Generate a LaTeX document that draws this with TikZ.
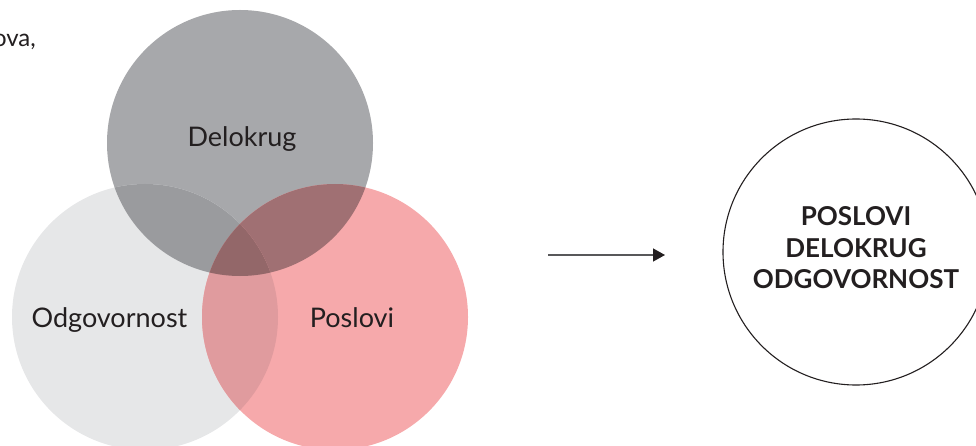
\documentclass[tikz,border=0pt]{standalone}
\usepackage{fontspec}
\setmainfont{Lato}
\usetikzlibrary{arrows.meta}

% palette of the three sets and their overlaps
\definecolor{setD}{HTML}{A7A8AB}
\definecolor{setO}{HTML}{E6E7E8}
\definecolor{setP}{HTML}{F6A9AB}
\definecolor{setDO}{HTML}{9A9B9E}
\definecolor{setDP}{HTML}{A07073}
\definecolor{setOP}{HTML}{E09B9E}
\definecolor{setDOP}{HTML}{936769}
\definecolor{ink}{HTML}{231F20}
\definecolor{arrowgray}{HTML}{58585A}

\begin{document}
\begin{tikzpicture}[x=1pt,y=-1pt,
  setcircle/.style={circle,inner sep=0pt,minimum size=266pt,draw=none},
  label/.style={font=\fontsize{27}{32}\selectfont,text=ink,anchor=base},
  result/.style={circle,inner sep=0pt,minimum size=266pt,draw=ink,line width=1.1pt},
  resulttext/.style={font=\bfseries\fontsize{26}{31.5}\selectfont,text=ink,align=center}]
  \useasboundingbox (0,0) rectangle (976,446);
  \clip (0,0) rectangle (976,446);

  % base discs
  \node[setcircle,fill=setD] (D) at (240,143) {};
  \node[setcircle,fill=setO] (O) at (145,317) {};
  \node[setcircle,fill=setP] (P) at (335,317) {};

  % pairwise overlaps
  \begin{scope}
    \clip (D.center) circle (133);
    \fill[setDO] (O.center) circle (133);
    \fill[setDP] (P.center) circle (133);
  \end{scope}
  \begin{scope}
    \clip (O.center) circle (133);
    \fill[setOP] (P.center) circle (133);
  \end{scope}
  % triple overlap
  \begin{scope}
    \clip (D.center) circle (133);
    \clip (O.center) circle (133);
    \fill[setDOP] (P.center) circle (133);
  \end{scope}

  % set labels
  \node[label] (tD) at (242,147) {Delokrug};
  \node[label] (tO) at (109.5,327) {Odgovornost};
  \node[label] (tP) at (352,327) {Poslovi};

  % tail of a sentence running in from the left edge
  \node[label,font=\fontsize{24}{29}\selectfont,anchor=base east,inner sep=0pt] (tc) at (36,47) {ova,};

  % result circle
  \node[result] (R) at (856,252) {};
  \node[resulttext] (tR) at (856,248) {POSLOVI\\DELOKRUG\\ODGOVORNOST};

  % arrow
  \coordinate (a1) at (548,255);
  \coordinate (a2) at (665,255);
  \draw[arrowgray,line width=1.4pt,-{Triangle[length=12pt,width=13pt,fill=ink,color=ink]}] (a1) -- (a2);
\end{tikzpicture}
\end{document}
